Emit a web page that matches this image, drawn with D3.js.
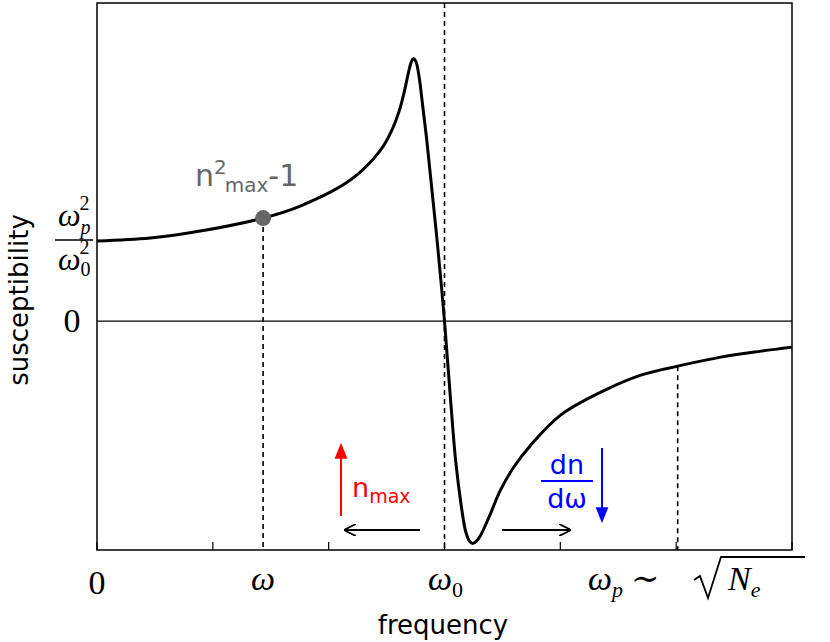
<!DOCTYPE html>
<html><head><meta charset="utf-8">
<script src="https://cdn.jsdelivr.net/npm/d3@7"></script>
<style>body{margin:0;background:#fff}</style></head>
<body><svg id="c" width="830" height="642"></svg>
<script>
// frequency in units of ω0, susceptibility in units of ωp²/ω0²
const freq = [0,0.153,0.297,0.478,0.585,0.729,0.816,0.85,0.87,0.885,0.895,0.903,0.91,0.918,0.927,0.937,0.948,0.960,0.98,1.0,1.016,1.032,1.048,1.061,1.072,1.081,1.092,1.104,1.13,1.161,1.2,1.248,1.334,1.450,1.565,1.671,1.795,1.911,2.0];
const chi  = [1.0,1.0375,1.125,1.288,1.438,1.7625,2.1375,2.4,2.63,2.88,3.08,3.22,3.28,3.24,3.05,2.7,2.3,1.8,0.95,0,-0.9,-1.74,-2.3,-2.63,-2.75,-2.78,-2.75,-2.675,-2.43,-2.1125,-1.82,-1.55,-1.175,-0.8875,-0.675,-0.5625,-0.45,-0.375,-0.325];
const xTicks = [0,1/3,2/3,1,4/3,5/3,2];
const wMark = 0.478, wpMark = 1.671;

const svg = d3.select("#c");
const x = d3.scaleLinear().domain([0,2]).range([97,792]);
const y = d3.scaleLinear().domain([-2.86,3.975]).range([550,3]);
const serif = "'Liberation Serif','DejaVu Serif',serif";
const sans = "'DejaVu Sans',sans-serif";

svg.append("defs").html(`
<marker id="ak" viewBox="0 0 10 10" refX="9" refY="5" markerWidth="12" markerHeight="12" orient="auto-start-reverse" markerUnits="userSpaceOnUse"><path d="M0,0L10,5L0,10" fill="none" stroke="#000" stroke-width="1.5"/></marker>
<marker id="ar" viewBox="0 0 10 10" refX="8" refY="5" markerWidth="16" markerHeight="16" orient="auto" markerUnits="userSpaceOnUse"><path d="M0,1L10,5L0,9z" fill="red"/></marker>
<marker id="ab" viewBox="0 0 10 10" refX="8" refY="5" markerWidth="16" markerHeight="16" orient="auto" markerUnits="userSpaceOnUse"><path d="M0,1L10,5L0,9z" fill="blue"/></marker>`);

svg.append("rect").attr("x",97).attr("y",3).attr("width",695).attr("height",547).attr("fill","none").attr("stroke","#000").attr("stroke-width",1.5);
xTicks.forEach(t=>svg.append("line").attr("x1",x(t)).attr("x2",x(t)).attr("y1",550).attr("y2",542).attr("stroke","#000").attr("stroke-width",1.2));
svg.append("line").attr("x1",97).attr("x2",792).attr("y1",y(0)).attr("y2",y(0)).attr("stroke","#000").attr("stroke-width",1.3);
const dash = (x0,y0)=>svg.append("line").attr("x1",x(x0)).attr("x2",x(x0)).attr("y1",y0).attr("y2",550).attr("stroke","#000").attr("stroke-width",1.6).attr("stroke-dasharray","5,4");
dash(1,3);
dash(wMark,y(1.288));
dash(wpMark,y(-0.5625));
const pts = freq.map((f,i)=>[f,chi[i]]);
svg.append("path").attr("d",d3.line().x(d=>x(d[0])).y(d=>y(d[1])).curve(d3.curveCatmullRom)(pts))
 .attr("fill","none").attr("stroke","#000").attr("stroke-width",3);
svg.append("circle").attr("cx",x(wMark)).attr("cy",y(1.288)).attr("r",8).attr("fill","#666");
const lab = svg.append("text").attr("x",195).attr("y",186).attr("fill","#666").attr("font-family",sans).attr("font-size",30);
lab.append("tspan").text("n");
lab.append("tspan").attr("dy",-12).attr("font-size",20).text("2");
lab.append("tspan").attr("dy",18).attr("dx",-2).attr("font-size",20).text("max");
lab.append("tspan").attr("dy",-6).text("-1");

svg.append("text").attr("transform","translate(28,300) rotate(-90)").attr("text-anchor","middle").attr("font-family",sans).attr("font-size",26).text("susceptibility");
svg.append("text").attr("x",72).attr("y",332).attr("text-anchor","middle").attr("font-family",serif).attr("font-size",34).text("0");
let t1=svg.append("text").attr("x",58).attr("y",226).attr("font-family",serif).attr("font-style","italic").attr("font-size",32);
t1.append("tspan").text("ω");t1.append("tspan").attr("font-size",20).attr("dy",8).text("p");t1.append("tspan").attr("font-size",20).attr("dy",-24).attr("dx",-11).attr("font-style","normal").text("2");
svg.append("line").attr("x1",55).attr("x2",93).attr("y1",240).attr("y2",240).attr("stroke","#000").attr("stroke-width",1.5);
let t2=svg.append("text").attr("x",58).attr("y",270).attr("font-family",serif).attr("font-style","italic").attr("font-size",32);
t2.append("tspan").text("ω");t2.append("tspan").attr("font-size",20).attr("dy",6).attr("font-style","normal").text("0");t2.append("tspan").attr("font-size",20).attr("dy",-22).attr("dx",-11).attr("font-style","normal").text("2");

svg.append("text").attr("x",x(0)).attr("y",594).attr("text-anchor","middle").attr("font-family",serif).attr("font-size",34).text("0");
svg.append("text").attr("x",x(wMark)).attr("y",590).attr("text-anchor","middle").attr("font-family",serif).attr("font-style","italic").attr("font-size",34).text("ω");
let t3=svg.append("text").attr("x",428).attr("y",590).attr("font-family",serif).attr("font-style","italic").attr("font-size",34);
t3.append("tspan").text("ω");t3.append("tspan").attr("font-size",22).attr("dy",7).attr("font-style","normal").text("0");
let t4=svg.append("text").attr("x",588).attr("y",590).attr("font-family",serif).attr("font-style","italic").attr("font-size",34);
t4.append("tspan").text("ω");t4.append("tspan").attr("font-size",22).attr("dy",7).text("p");
t4.append("tspan").attr("dy",-7).attr("dx",8).attr("font-style","normal").text("∼");
svg.append("path").attr("d","M694,580 L700,576 L708,598 L721,557 L805,557").attr("fill","none").attr("stroke","#000").attr("stroke-width",1.8);
let t5=svg.append("text").attr("x",728).attr("y",590).attr("font-family",serif).attr("font-style","italic").attr("font-size",34);
t5.append("tspan").text("N");t5.append("tspan").attr("font-size",22).attr("dy",7).text("e");
svg.append("text").attr("x",443).attr("y",634).attr("text-anchor","middle").attr("font-family",sans).attr("font-size",26).text("frequency");

svg.append("line").attr("x1",420).attr("x2",345).attr("y1",530).attr("y2",530).attr("stroke","#000").attr("stroke-width",1.8).attr("marker-end","url(#ak)");
svg.append("line").attr("x1",502).attr("x2",570).attr("y1",530).attr("y2",530).attr("stroke","#000").attr("stroke-width",1.8).attr("marker-end","url(#ak)");
svg.append("line").attr("x1",341).attr("x2",341).attr("y1",516).attr("y2",446).attr("stroke","red").attr("stroke-width",2).attr("marker-end","url(#ar)");
let t6=svg.append("text").attr("x",352).attr("y",497).attr("fill","red").attr("font-family",sans).attr("font-size",27);
t6.append("tspan").text("n");t6.append("tspan").attr("font-size",19).attr("dy",6).text("max");
svg.append("text").attr("x",567).attr("y",474).attr("text-anchor","middle").attr("fill","blue").attr("font-family",sans).attr("font-size",27).text("dn");
svg.append("line").attr("x1",541).attr("x2",593).attr("y1",481).attr("y2",481).attr("stroke","blue").attr("stroke-width",1.8);
svg.append("text").attr("x",567).attr("y",508).attr("text-anchor","middle").attr("fill","blue").attr("font-family",sans).attr("font-size",27).text("dω");
svg.append("line").attr("x1",602).attr("x2",602).attr("y1",448).attr("y2",520).attr("stroke","blue").attr("stroke-width",2).attr("marker-end","url(#ab)");
</script></body></html>
